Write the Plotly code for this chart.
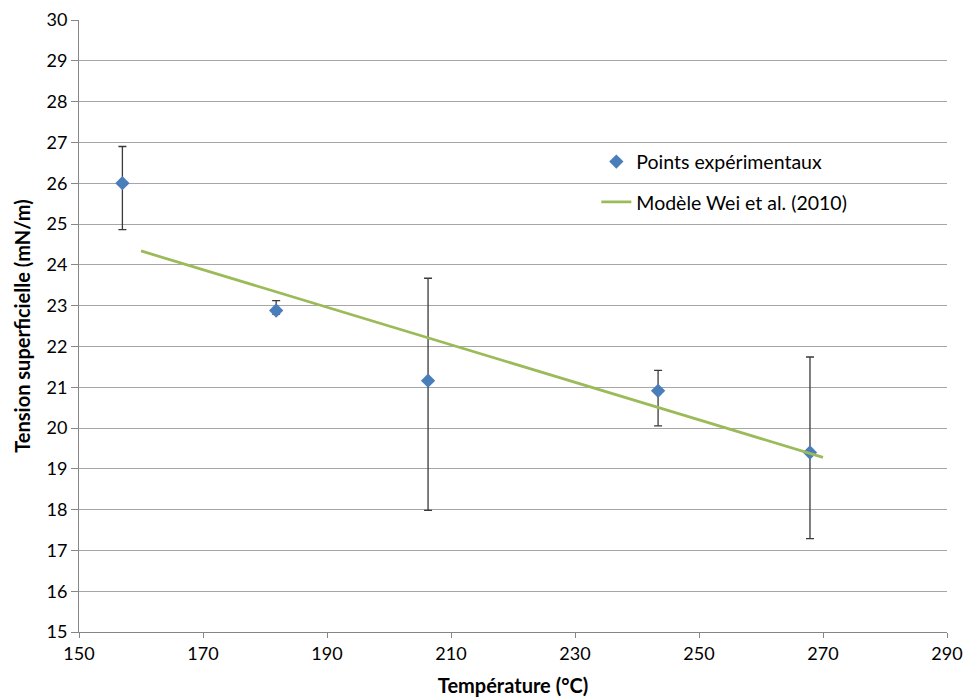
import plotly.graph_objects as go

# Experimental points
temp_exp = [157.0, 181.8, 206.3, 243.4, 267.9]
tension_exp = [26.0, 22.88, 21.16, 20.91, 19.40]
err_plus = [0.90, 0.24, 2.51, 0.50, 2.34]
err_minus = [1.14, 0.09, 3.18, 0.86, 2.11]

# Model line (Wei et al. 2010)
temp_model = [160, 270]
tension_model = [24.34, 19.28]

x_ticks = list(range(150, 291, 20))
y_ticks = list(range(15, 31, 1))

font_family = "Lato, 'Open Sans', sans-serif"

fig = go.Figure()
fig.add_trace(go.Scatter(
    x=temp_exp, y=tension_exp, mode="markers",
    name="Points expérimentaux",
    marker=dict(symbol="diamond", size=11, color="#4a7ebb"),
    error_y=dict(type="data", symmetric=False, array=err_plus, arrayminus=err_minus,
                 color="#3a3a3a", thickness=1.3, width=4),
    legendgroup="a",
))
fig.add_trace(go.Scatter(
    x=temp_model, y=tension_model, mode="lines",
    name="Modèle Wei et al. (2010)",
    line=dict(color="#9bbb59", width=2.75),
    legendgroup="b",
))

fig.update_layout(
    width=963, height=697,
    margin=dict(l=79, r=16, t=20, b=65),
    paper_bgcolor="white", plot_bgcolor="white",
    font=dict(family=font_family, size=18, color="#000000"),
    legend=dict(x=0.596, y=0.80, xanchor="left", yanchor="top",
                traceorder="grouped", tracegroupgap=12,
                font=dict(size=19.5), bgcolor="rgba(0,0,0,0)"),
    showlegend=True,
)
fig.update_xaxes(
    range=[150, 290], tickvals=x_ticks, ticktext=[str(v) for v in x_ticks],
    showgrid=False, showline=True, linecolor="#868686", linewidth=1,
    ticks="outside", ticklen=5, tickcolor="#868686",
    ticklabeloverflow="allow",
    title=dict(text="<b>Température (°C)</b>", font=dict(size=20), standoff=22),
    zeroline=False, automargin=False,
)
fig.update_yaxes(
    range=[15, 30], tickvals=y_ticks, ticktext=[str(v) for v in y_ticks],
    showgrid=True, gridcolor="#a6a6a6", gridwidth=1,
    showline=True, linecolor="#868686", linewidth=1,
    ticks="outside", ticklen=7, tickcolor="#868686",
    title=dict(text="<b>Tension superficielle (mN/m)</b>", font=dict(size=20), standoff=10),
    zeroline=False, automargin=False,
)

# remove the default 8px page margin so the figure fills the window exactly
fig.write_html(
    "out.html",
    config={"displayModeBar": False},
    post_script="document.body.style.margin='0';document.body.style.overflow='hidden';",
)
